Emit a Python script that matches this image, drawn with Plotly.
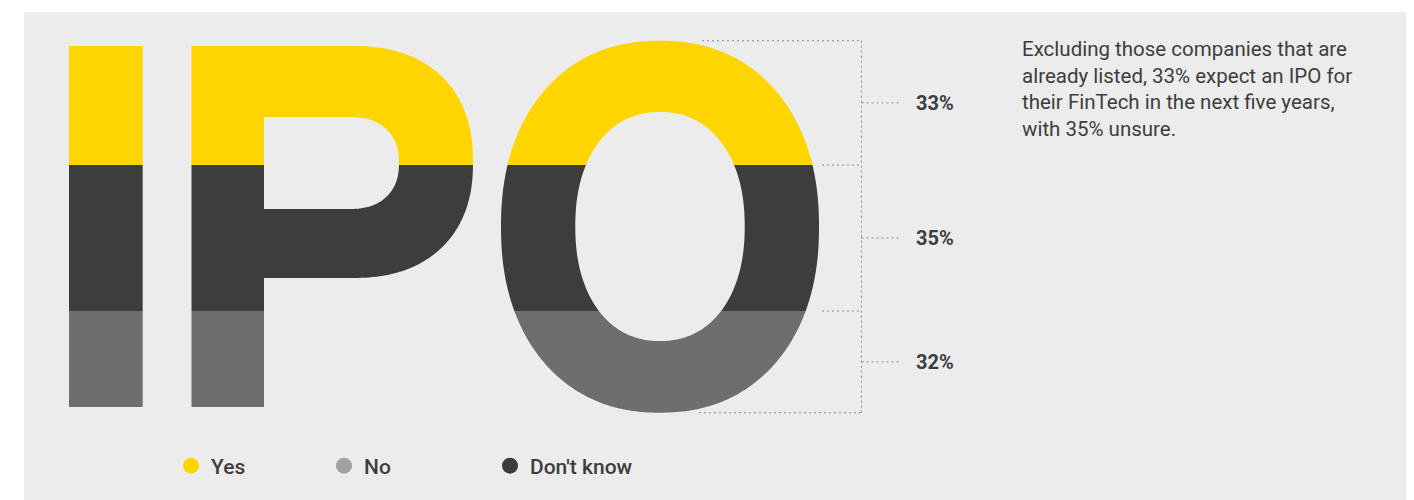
import numpy as np
import plotly.graph_objects as go

# ---------------- data ----------------
categories = ["Yes", "Don't know", "No"]          # top -> bottom in the letters
values = [33, 35, 32]                              # percent
legend_order = ["Yes", "No", "Don't know"]
label_texts = ["33%", "35%", "32%"]
caption_lines = [
    "Excluding those companies that are",
    "already listed, 33% expect an IPO for",
    "their FinTech in the next five years,",
    "with 35% unsure.",
]

# ---------------- style ----------------
WIN_W, WIN_H = 1414, 500
OFF = 8                                   # default page body margin
W, H = WIN_W - OFF, WIN_H - OFF           # figure size so it ends at window edge
BG = "#ECECEC"
band_colors = {"Yes": "#FFD500", "Don't know": "#3D3D3C", "No": "#6E6E6E"}
legend_colors = {"Yes": "#FFD500", "No": "#A2A2A2", "Don't know": "#3D3D3C"}
TEXT = "#3D3D3D"
DASH = "#8C8C8C"
FONT = "Roboto"

# vertical percent scale (pixels per percent, pixel of 0 %)
PX_PER_PCT = 146 / 35
ZERO_PX = 311 + 32 * PX_PER_PCT


def yv(p):
    """screen pixel row -> y value in percent units"""
    return (ZERO_PX - p) / PX_PER_PCT


def yp(v):
    return ZERO_PX - v * PX_PER_PCT


def pxp(x):
    return (x - OFF) / W


def pyp(y):
    return 1 - (y - OFF) / H


def se_arc(cx, cy, rx, ry, n, t0, t1, num=120):
    t = np.radians(np.linspace(t0, t1, num))
    c, s = np.cos(t), np.sin(t)
    x = cx + rx * np.sign(c) * np.abs(c) ** (2 / n)
    y = cy + ry * np.sign(s) * np.abs(s) ** (2 / n)
    return list(zip(x, y))


def path(points):
    pts = [f"{x:.2f},{yv(y):.4f}" for x, y in points]
    return "M" + " L".join(pts) + " Z"


# letter outlines (screen-pixel geometry)
O_TOP, O_BOT = 40.7, 412.7
letter_I = [(69, 46), (142.7, 46), (142.7, 407), (69, 407)]
P_outer = ([(191.5, 46)] + se_arc(352, 162, 121, 116, 2.3, -90, 90)
           + [(264, 278), (264, 407), (191.5, 407)])
P_hole = [(264, 117)] + se_arc(350, 163, 49, 46, 2.3, -90, 90) + [(264, 209)]
O_outer = se_arc(660, 226.7, 159, 186, 2.2, 0, 360, 360)
O_hole = se_arc(660, 226.5, 84.7, 114.5, 2.2, 0, 360, 360)
mask_rect = [(55, 20), (840, 20), (840, 452), (55, 452)]

fig = go.Figure()

# stacked bands (bottom first)
for cat in reversed(categories):
    fig.add_trace(go.Bar(
        x=[447.5], y=[values[categories.index(cat)]], width=[785],
        marker=dict(color=band_colors[cat], line=dict(width=0)),
        showlegend=False, hoverinfo="skip"))

# legend entries (separate legends for exact placement)
legend_x_px = [171, 324, 490]
for i, cat in enumerate(legend_order):
    lname = "legend" if i == 0 else f"legend{i + 1}"
    fig.add_trace(go.Scatter(
        x=[None], y=[None], mode="markers", name=cat,
        marker=dict(color=legend_colors[cat], size=17, symbol="circle"),
        legend=lname))

shapes = []
# grey panel
shapes.append(dict(type="rect", xref="paper", yref="paper", x0=pxp(24), x1=1,
                   y0=0, y1=pyp(12), fillcolor=BG, line=dict(width=0),
                   layer="below"))
# mask: everything outside the letters in background colour (evenodd)
mask_path = " ".join(path(p) for p in [mask_rect, letter_I, P_outer, P_hole,
                                        O_outer, O_hole])
shapes.append(dict(type="path", path=mask_path, fillcolor=BG, fillrule="evenodd",
                   line=dict(width=0), layer="above", xref="x", yref="y"))

# bracket lines
cum = np.cumsum([0] + values[::-1])  # from bottom: 0, No, No+DK, 100
bounds_px = [yp(v) for v in cum[1:-1]]  # internal boundaries
dl = dict(color=DASH, width=1, dash="2px,3px")
BX = 861.5
shapes.append(dict(type="line", x0=702, x1=BX, y0=yv(O_TOP), y1=yv(O_TOP), line=dl, layer="above"))
shapes.append(dict(type="line", x0=699, x1=BX, y0=yv(O_BOT), y1=yv(O_BOT), line=dl, layer="above"))
shapes.append(dict(type="line", x0=BX, x1=BX, y0=yv(O_TOP), y1=yv(O_BOT), line=dl, layer="above"))
for b in bounds_px:
    shapes.append(dict(type="line", x0=822, x1=BX, y0=yv(b), y1=yv(b), line=dl, layer="above"))

# labels at visible band middles
annotations = []
top_v = 100
for cat, val, txt in zip(categories, values, label_texts):
    lo_v = top_v - val
    p_top = max(yp(top_v), O_TOP)
    p_bot = min(yp(lo_v), O_BOT)
    mid = (p_top + p_bot) / 2
    shapes.append(dict(type="line", x0=BX, x1=901, y0=yv(mid), y1=yv(mid), line=dl, layer="above"))
    annotations.append(dict(x=914, y=yv(mid), text=f"<b>{txt}</b>", showarrow=False,
                            xanchor="left", yanchor="middle",
                            font=dict(family=FONT, size=20, color=TEXT)))
    top_v = lo_v

annotations.append(dict(xref="paper", yref="paper", x=pxp(1020), y=pyp(34.5),
                        text="<br>".join(caption_lines), showarrow=False,
                        xanchor="left", yanchor="top", align="left",
                        font=dict(family=FONT, size=20.5, color=TEXT)))

layout_legends = {}
for i, cat in enumerate(legend_order):
    lname = "legend" if i == 0 else f"legend{i + 1}"
    layout_legends[lname] = dict(
        x=pxp(legend_x_px[i]), y=pyp(466), xanchor="left", yanchor="middle",
        bgcolor="rgba(0,0,0,0)", orientation="h",
        font=dict(family=FONT, size=21, color=TEXT, weight=500))

fig.update_layout(
    width=W, height=H, margin=dict(l=0, r=0, t=0, b=0),
    paper_bgcolor="white", plot_bgcolor="rgba(0,0,0,0)",
    barmode="stack", bargap=0,
    xaxis=dict(range=[OFF, WIN_W], visible=False, fixedrange=True),
    yaxis=dict(range=[yv(WIN_H), yv(OFF)], visible=False, fixedrange=True),
    shapes=shapes, annotations=annotations,
    **layout_legends,
)

fig.write_html("out.html")
